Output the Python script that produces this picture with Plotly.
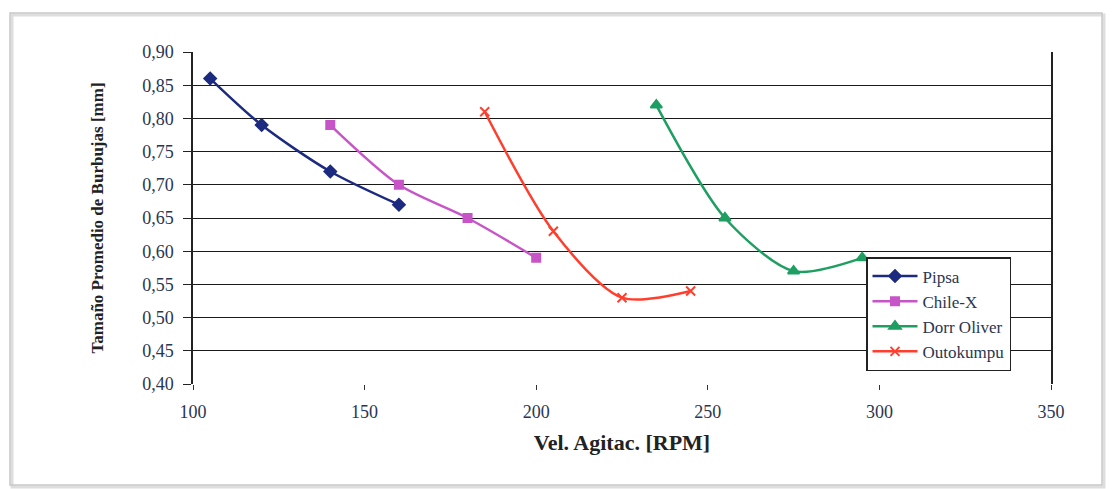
import plotly.graph_objects as go

# Data
pipsa_x = [105, 120, 140, 160]
pipsa_y = [0.86, 0.79, 0.72, 0.67]
chile_x = [140, 160, 180, 200]
chile_y = [0.79, 0.70, 0.65, 0.59]
dorr_x = [235, 255, 275, 295]
dorr_y = [0.82, 0.65, 0.57, 0.59]
outo_x = [185, 205, 225, 245]
outo_y = [0.81, 0.63, 0.53, 0.54]

series_names = ["Pipsa", "Chile-X", "Dorr Oliver", "Outokumpu"]
y_ticks = [0.40, 0.45, 0.50, 0.55, 0.60, 0.65, 0.70, 0.75, 0.80, 0.85, 0.90]
x_ticks = [100, 150, 200, 250, 300, 350]

W, H = 1112, 489
L, R, T, B = 193, 1051, 52, 384  # plot area in pixels

SERIF = "Liberation Serif"
TICK_COL = "#2a3652"

fig = go.Figure()
styles = [
    (pipsa_x, pipsa_y, "#1c2a80", "diamond", 9),
    (chile_x, chile_y, "#c755c7", "square", 8),
    (dorr_x, dorr_y, "#1f9e62", "triangle-up", 10),
    (outo_x, outo_y, "#ff3f2e", "x-thin", 9),
]
for name, (xs, ys, col, sym, sz) in zip(series_names, styles):
    fig.add_trace(go.Scatter(
        x=xs, y=ys, name=name, mode="lines+markers",
        line=dict(color=col, width=2.5, shape="spline", smoothing=0.8),
        marker=dict(symbol=sym, size=sz, color=col,
                    line=dict(color=col, width=2)),
    ))

def px_x(p):
    return (p - L) / (R - L)

def px_y(p):
    return (B - p) / (B - T)

fig.update_layout(
    width=W, height=H,
    margin=dict(l=L, r=W - R, t=T, b=H - B),
    paper_bgcolor="white", plot_bgcolor="white",
    separators=",.",
    font=dict(family=SERIF, size=16, color=TICK_COL),
    showlegend=True,
    legend=dict(
        x=px_x(866), y=px_y(257), xanchor="left", yanchor="top",
        bgcolor="white", bordercolor="#222", borderwidth=1.5,
        font=dict(family=SERIF, size=17, color=TICK_COL),
        tracegroupgap=0, itemwidth=45,
    ),
    xaxis=dict(
        range=[100, 350], tickvals=x_ticks, showgrid=False, zeroline=False,
        showline=False, ticks="outside", ticklen=5, tickcolor="#333",
        ticklabelstandoff=6,
        tickfont=dict(family=SERIF, size=18, color=TICK_COL),
        title=dict(text="<b>Vel. Agitac. [RPM]</b>", standoff=14,
                   font=dict(family=SERIF, size=22, color="#222")),
    ),
    yaxis=dict(
        range=[0.40, 0.90], tickvals=y_ticks, tickformat=".2f",
        showgrid=True, gridcolor="#1a1a1a", gridwidth=1.3, zeroline=False,
        showline=True, linecolor="#222", linewidth=1.5, mirror=True,
        ticks="outside", ticklen=8, tickcolor="#222",
        ticklabelstandoff=6,
        tickfont=dict(family=SERIF, size=18, color=TICK_COL),
        title=dict(text="<b>Tamaño Promedio de Burbujas [mm]</b>", standoff=34,
                   font=dict(family=SERIF, size=17, color="#222")),
    ),
)

# Outer chart frame with soft shadow
fig.add_shape(type="rect", xref="paper", yref="paper",
              x0=px_x(12), x1=px_x(1104), y0=px_y(487), y1=px_y(15),
              line=dict(color="#dedede", width=3), fillcolor="rgba(0,0,0,0)",
              layer="below")
fig.add_shape(type="rect", xref="paper", yref="paper",
              x0=px_x(10), x1=px_x(1102), y0=px_y(485), y1=px_y(13),
              line=dict(color="#c8c8c8", width=1.5), fillcolor="rgba(0,0,0,0)",
              layer="below")

fig.write_html("out.html", config={"displayModeBar": False},
               post_script="document.body.style.margin='0px';")
